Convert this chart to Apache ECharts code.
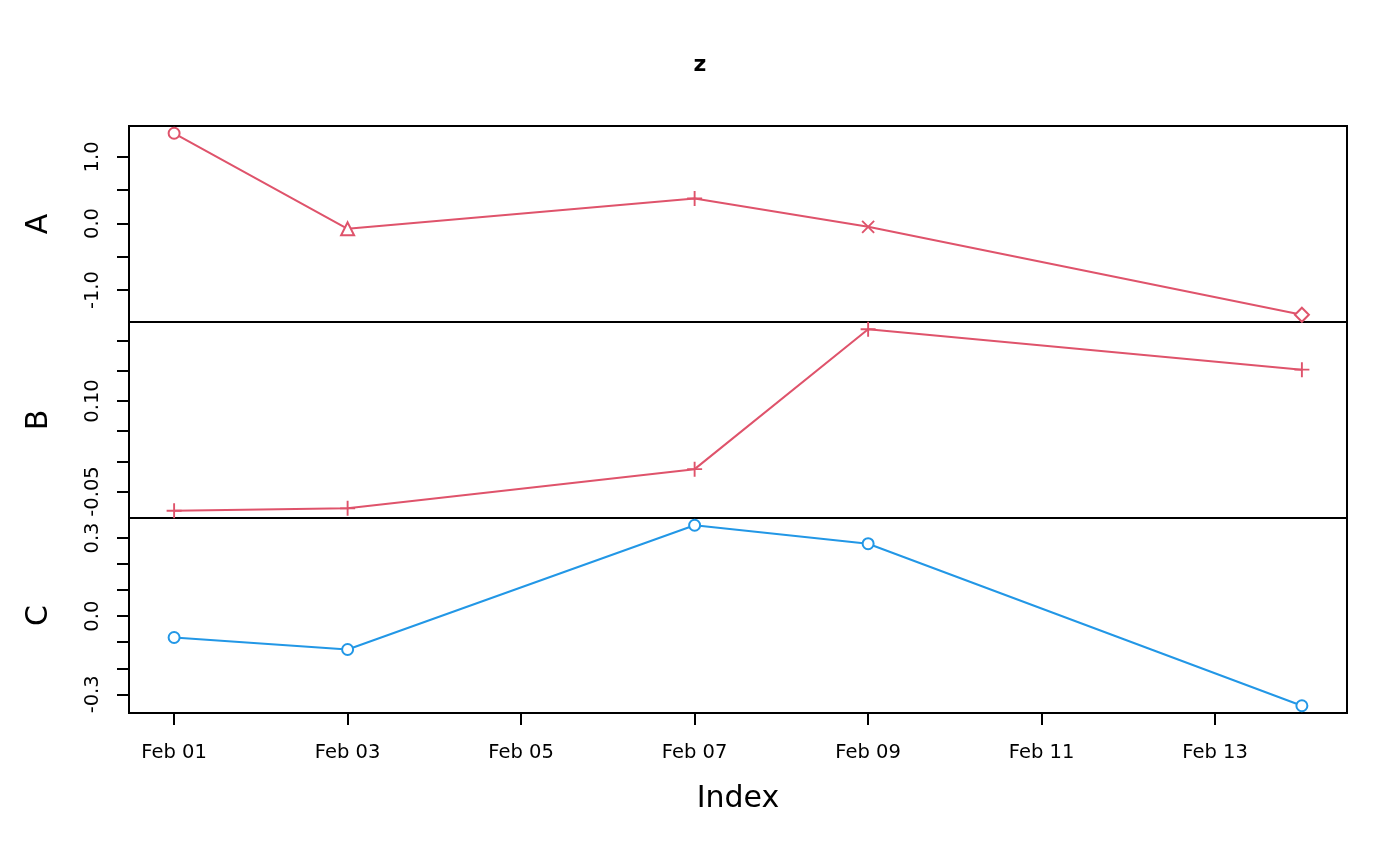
<!DOCTYPE html>
<html>
<head>
<meta charset="utf-8">
<script src="https://cdn.jsdelivr.net/npm/echarts@6/dist/echarts.min.js"></script>
<style>
  html, body { margin: 0; padding: 0; background: #fff; }
  #chart { width: 1400px; height: 866px; }
</style>
</head>
<body>
<div id="chart"></div>
<script>
// data
const dates = ['2024-02-01', '2024-02-03', '2024-02-07', '2024-02-09', '2024-02-14']
const seriesA = [1.355, -0.08, 0.376, -0.05, -1.37]
const seriesB = [-0.082, -0.078, -0.013, 0.219, 0.152]
const seriesC = [-0.082, -0.128, 0.349, 0.278, -0.344]
const symbolsA = ['emptyCircle', 'emptyTriangle', 'plus', 'cross', 'emptyDiamond']

// ticks
const xTicks = [1, 3, 5, 7, 9, 11, 13]
const ticksA = [-1, -0.5, 0, 0.5, 1]
const labelsA = [-1, 0, 1]
const ticksB = [-0.05, 0, 0.05, 0.10, 0.15, 0.20]
const labelsB = [-0.05, 0.10]
const ticksC = [-0.3, -0.2, -0.1, 0, 0.1, 0.2, 0.3]
const labelsC = [-0.3, 0, 0.3]

const RED = '#DF536B'
const BLUE = '#2297E6'
const FONT = 'DejaVu Sans'

const plusPath = 'path://M0,-1L0,1M-1,0L1,0'
const crossPath = 'path://M-1,-1L1,1M-1,1L1,-1'

function day (d) {
  return Number(d.slice(8, 10))
}

// R style 4% range extension
function padRange (vals) {
  let lo = Math.min(...vals)
  let hi = Math.max(...vals)
  let ext = (hi - lo) * 0.04
  return [lo - ext, hi + ext]
}

function symbolItem (sym, color) {
  if (sym === 'plus' || sym === 'cross') {
    return {
      symbol: sym === 'plus' ? plusPath : crossPath,
      symbolSize: sym === 'plus' ? 15 : 12,
      itemStyle: { color: 'rgba(0,0,0,0)', borderColor: color, borderWidth: 1.9 }
    }
  }
  let size = sym === 'emptyCircle' ? 11 : (sym === 'emptyDiamond' ? 14 : 13)
  return {
    symbol: sym,
    symbolSize: size,
    itemStyle: { color: color, borderColor: color, borderWidth: 1.9 }
  }
}

function makeData (vals, syms, color) {
  return vals.map((v, i) => {
    let s = symbolItem(syms[i], color)
    return Object.assign({ value: [day(dates[i]), v] }, s)
  })
}

const xRange = padRange(dates.map(day))
const rA = padRange(seriesA)
const rB = padRange(seriesB)
const rC = padRange(seriesC)

const grids = [
  { left: 129, right: 53, top: 126, height: 196 },
  { left: 129, right: 53, top: 322, height: 196 },
  { left: 129, right: 53, top: 518, height: 195 }
].map(g => Object.assign(g, { show: true, borderColor: '#000', borderWidth: 2, backgroundColor: 'transparent' }))

function xAxis (idx, showLabels) {
  return {
    type: 'value',
    gridIndex: idx,
    min: xRange[0],
    max: xRange[1],
    splitLine: { show: false },
    axisLine: { show: false, onZero: false },
    axisTick: {
      show: showLabels,
      customValues: xTicks,
      inside: false,
      length: 12,
      lineStyle: { color: '#000', width: 2 }
    },
    axisLabel: {
      show: showLabels,
      customValues: xTicks,
      margin: 30,
      fontFamily: FONT,
      fontSize: 19.5,
      color: '#000',
      formatter: v => 'Feb ' + String(Math.round(v)).padStart(2, '0')
    },
    name: showLabels ? 'Index' : '',
    nameLocation: 'middle',
    nameGap: 71,
    nameTextStyle: { fontFamily: FONT, fontSize: 30, color: '#000' }
  }
}

function yAxis (idx, name, range, ticks, labels, digits) {
  return {
    type: 'value',
    gridIndex: idx,
    min: range[0],
    max: range[1],
    splitLine: { show: false },
    axisLine: { show: true, onZero: false, lineStyle: { color: '#000', width: 2 } },
    axisTick: {
      customValues: ticks,
      length: 12,
      lineStyle: { color: '#000', width: 2 }
    },
    axisLabel: {
      customValues: labels,
      rotate: 90,
      margin: 26,
      fontFamily: FONT,
      fontSize: 19.5,
      color: '#000',
      formatter: v => v.toFixed(digits)
    },
    name: name,
    nameLocation: 'middle',
    nameRotate: 90,
    nameGap: 75,
    nameTextStyle: { fontFamily: FONT, fontSize: 30, color: '#000' }
  }
}

const lineStyle = c => ({ color: c, width: 2 })

const options = {
  backgroundColor: '#fff',
  animation: false,
  title: {
    text: 'z',
    left: 'center',
    top: 49,
    textStyle: { fontFamily: FONT, fontSize: 22, fontWeight: 'bold', color: '#000' }
  },
  grid: grids,
  xAxis: [xAxis(0, false), xAxis(1, false), xAxis(2, true)],
  yAxis: [
    yAxis(0, 'A', rA, ticksA, labelsA, 1),
    yAxis(1, 'B', rB, ticksB, labelsB, 2),
    yAxis(2, 'C', rC, ticksC, labelsC, 1)
  ],
  series: [
    {
      type: 'line',
      xAxisIndex: 0,
      yAxisIndex: 0,
      lineStyle: lineStyle(RED),
      itemStyle: { color: RED },
      data: makeData(seriesA, symbolsA, RED)
    },
    {
      type: 'line',
      xAxisIndex: 1,
      yAxisIndex: 1,
      lineStyle: lineStyle(RED),
      itemStyle: { color: RED },
      data: makeData(seriesB, seriesB.map(() => 'plus'), RED)
    },
    {
      type: 'line',
      xAxisIndex: 2,
      yAxisIndex: 2,
      lineStyle: lineStyle(BLUE),
      itemStyle: { color: BLUE },
      data: makeData(seriesC, seriesC.map(() => 'emptyCircle'), BLUE)
    }
  ]
}

const chart = echarts.init(document.getElementById('chart'))
chart.setOption(options)
</script>
</body>
</html>
